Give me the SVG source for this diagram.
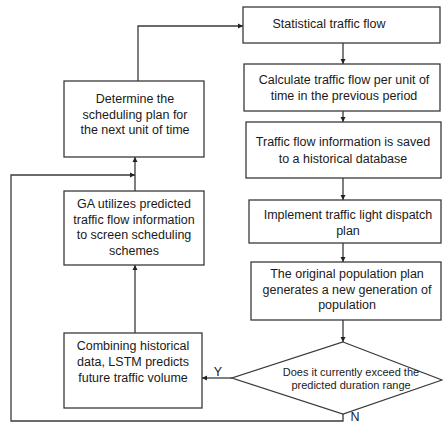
<svg xmlns="http://www.w3.org/2000/svg" width="443" height="424" viewBox="0 0 443 424">
<style>
.box{fill:#fff;stroke:#3a3a3a;stroke-width:1.3}
.t{font-family:"Liberation Sans",Arial,sans-serif;font-size:12.5px;fill:#1a1a1a;text-anchor:middle}
.s{font-size:11px}
.c{fill:none;stroke:#3a3a3a;stroke-width:1.3}
</style>
<defs>
<marker id="ah" markerWidth="6" markerHeight="6" refX="5" refY="3" orient="auto" markerUnits="userSpaceOnUse">
<path d="M0,0.5 L5,3 L0,5.5 Z" fill="#222"/>
</marker>
</defs>
<rect width="443" height="424" fill="#fff"/>
<g id="connectors">
<path class="c" d="M138,81 V26 H243" marker-end="url(#ah)"/>
<path class="c" d="M343,43 V64" marker-end="url(#ah)"/>
<path class="c" d="M343,111 V122" marker-end="url(#ah)"/>
<path class="c" d="M343,178 V200" marker-end="url(#ah)"/>
<path class="c" d="M343,243 V262" marker-end="url(#ah)"/>
<path class="c" d="M343,320 V342" marker-end="url(#ah)"/>
<path class="c" d="M232,378 H202" marker-end="url(#ah)"/>
<path class="c" d="M135,333 V265" marker-end="url(#ah)"/>
<path class="c" d="M135,191 V157" marker-end="url(#ah)"/>
<path class="c" d="M343,414 V421 H11 V175 H135" marker-end="url(#ah)"/>
<text class="t" x="218" y="376">Y</text>
<text class="t" x="355" y="421">N</text>
</g>
<g id="n1">
<rect class="box" x="243" y="7" width="197" height="36"/>
<text class="t" x="329" y="28">Statistical traffic flow</text>
</g>
<g id="n2">
<rect class="box" x="244" y="64" width="196" height="47"/>
<text class="t" x="344" y="84">Calculate traffic flow per unit of</text>
<text class="t" x="344" y="100">time in the previous period</text>
</g>
<g id="n3">
<rect class="box" x="246" y="122" width="195" height="56"/>
<text class="t" x="343" y="146">Traffic flow information is saved</text>
<text class="t" x="343" y="163">to a historical database</text>
</g>
<g id="n4">
<rect class="box" x="249" y="200" width="192" height="43"/>
<text class="t" x="348" y="219">Implement traffic light dispatch</text>
<text class="t" x="348" y="235">plan</text>
</g>
<g id="n5">
<rect class="box" x="251" y="262" width="190" height="58"/>
<text class="t" x="347" y="278">The original population plan</text>
<text class="t" x="347" y="294">generates a new generation of</text>
<text class="t" x="347" y="309">population</text>
</g>
<g id="n6">
<polygon class="box" points="343,342 442,380 343,414 232,378"/>
<text class="t s" x="351" y="376">Does it currently exceed the</text>
<text class="t s" x="351" y="389">predicted duration range</text>
</g>
<g id="n7">
<rect class="box" x="64" y="333" width="138" height="75"/>
<text class="t" x="133" y="350">Combining historical</text>
<text class="t" x="133" y="366">data, LSTM predicts</text>
<text class="t" x="133" y="382">future traffic volume</text>
</g>
<g id="n8">
<rect class="box" x="64" y="191" width="140" height="74"/>
<text class="t" x="134" y="208">GA utilizes predicted</text>
<text class="t" x="134" y="224">traffic flow information</text>
<text class="t" x="134" y="239">to screen scheduling</text>
<text class="t" x="134" y="255">schemes</text>
</g>
<g id="n9">
<rect class="box" x="64" y="81" width="140" height="76"/>
<text class="t" x="135" y="103">Determine the</text>
<text class="t" x="135" y="119">scheduling plan for</text>
<text class="t" x="135" y="134">the next unit of time</text>
</g>
</svg>
